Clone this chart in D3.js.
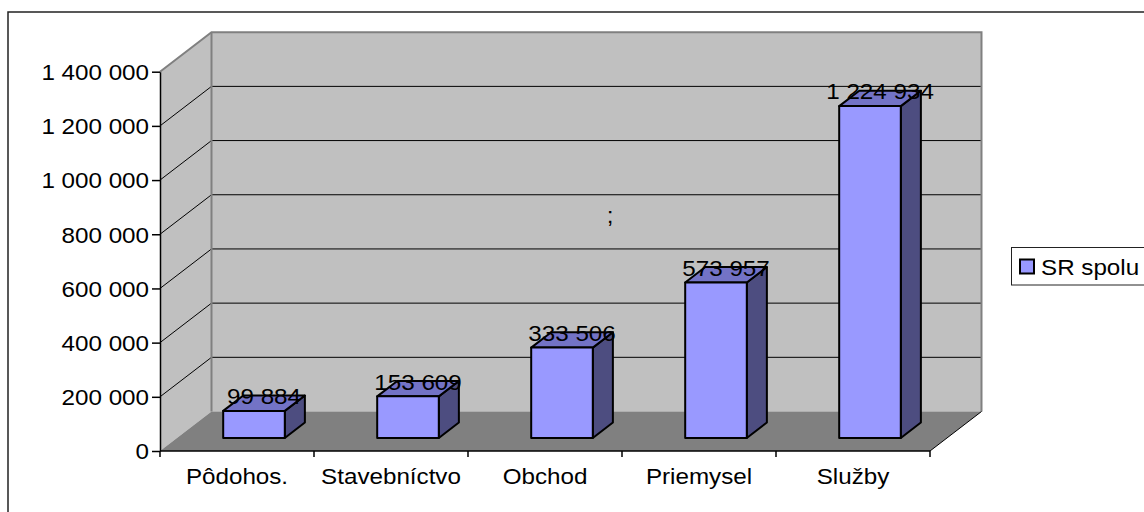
<!DOCTYPE html>
<html><head><meta charset="utf-8">
<script src="https://cdn.jsdelivr.net/npm/d3@7"></script>
<style>html,body{margin:0;padding:0;background:#fff;}svg{display:block;font-family:"Liberation Sans",Arial,sans-serif;}</style>
</head><body>
<script>
const categories = ["Pôdohos.", "Stavebníctvo", "Obchod", "Priemysel", "Služby"];
const values = [99884, 153609, 333506, 573957, 1224934];
const yTicks = [0, 200000, 400000, 600000, 800000, 1000000, 1200000, 1400000];
const seriesName = "SR spolu";
const strayText = ";";

const W = 1144, H = 512;
const DX = 51.5, DY = 39.5;       // depth offset of back wall
const f0 = 0.33, f1 = 0.72;       // bar depth range (fraction of depth)
const FS = 22, SX = 1.1;          // font size and horizontal stretch

const svg = d3.select("body").append("svg").attr("width", W).attr("height", H);

// outer chart border
svg.append("rect").attr("x", 8).attr("y", 12).attr("width", W + 20).attr("height", H + 20)
  .attr("fill", "#fff").attr("stroke", "#222").attr("stroke-width", 1.5);

const x = d3.scaleBand().domain(categories).range([160, 930]).padding(0);
const y = d3.scaleLinear().domain([0, 1400000]).range([451, 71.7]);
const fmt = d3.formatLocale({decimal: ",", thousands: " ", grouping: [3], currency: ["", ""]}).format(",.0f");

const x0 = x.range()[0], x1 = x.range()[1];
const yTop = y(1400000), yBot = y(0);

function txt(g, px, py, s, anchor) {
  return g.append("text").attr("transform", `translate(${px},${py}) scale(${SX},1)`)
    .attr("text-anchor", anchor).attr("font-size", FS).attr("fill", "#000").text(s);
}

// side wall
svg.append("polygon")
  .attr("points", [[x0, yTop], [x0 + DX, yTop - DY], [x0 + DX, yBot - DY], [x0, yBot]].join(" "))
  .attr("fill", "#c0c0c0");
// back wall
svg.append("rect").attr("x", x0 + DX).attr("y", yTop - DY).attr("width", x1 - x0).attr("height", yBot - yTop)
  .attr("fill", "#c0c0c0");
// floor
svg.append("polygon")
  .attr("points", [[x0, yBot], [x1, yBot], [x1 + DX, yBot - DY], [x0 + DX, yBot - DY]].join(" "))
  .attr("fill", "#808080");

// gridlines
const grid = yTicks.filter(v => v > 0 && v < 1400000);
svg.selectAll(".gb").data(grid).enter().append("line")
  .attr("x1", x0 + DX).attr("x2", x1 + DX).attr("y1", d => y(d) - DY).attr("y2", d => y(d) - DY)
  .attr("stroke", "#000").attr("stroke-width", 1);
svg.selectAll(".gs").data(grid).enter().append("line")
  .attr("x1", x0).attr("x2", x0 + DX).attr("y1", d => y(d)).attr("y2", d => y(d) - DY)
  .attr("stroke", "#000").attr("stroke-width", 1);

// wall borders
svg.append("path")
  .attr("d", `M${x0},${yTop}L${x0 + DX},${yTop - DY}L${x1 + DX},${yTop - DY}L${x1 + DX},${yBot - DY}`)
  .attr("fill", "none").attr("stroke", "#808080").attr("stroke-width", 2);
svg.append("line").attr("x1", x0 + DX).attr("x2", x0 + DX).attr("y1", yTop - DY).attr("y2", yBot - DY)
  .attr("stroke", "#808080").attr("stroke-width", 2);
svg.append("line").attr("x1", x1).attr("y1", yBot).attr("x2", x1 + DX).attr("y2", yBot - DY)
  .attr("stroke", "#000").attr("stroke-width", 1);

// y axis
const yAxis = svg.append("g").attr("transform", `translate(${x0},0)`)
  .call(d3.axisLeft(y).tickValues(yTicks).tickSize(8).tickSizeOuter(0).tickFormat(fmt));
yAxis.select(".domain").attr("stroke", "#000").attr("stroke-width", 1.5);
yAxis.selectAll(".tick line").attr("stroke", "#000").attr("stroke-width", 1.5);
yAxis.selectAll(".tick text").attr("x", null).attr("dy", "0.36em")
  .attr("transform", `translate(-11,0) scale(${SX},1)`)
  .attr("font-size", FS).attr("font-family", "Liberation Sans, Arial, sans-serif").attr("fill", "#000");

// x axis
svg.append("line").attr("x1", x0).attr("x2", x1).attr("y1", yBot).attr("y2", yBot)
  .attr("stroke", "#000").attr("stroke-width", 1.5);
const bounds = categories.map(c => x(c)).concat([x1]);
svg.selectAll(".xt").data(bounds).enter().append("line")
  .attr("x1", d => d).attr("x2", d => d).attr("y1", yBot).attr("y2", yBot + 6)
  .attr("stroke", "#000").attr("stroke-width", 1.5);
categories.forEach(c => txt(svg, x(c) + x.bandwidth() / 2, 484, c, "middle"));

// bars
const bw = x.bandwidth() * 0.4;
const ddx = (f1 - f0) * DX, ddy = (f1 - f0) * DY;
const bars = svg.append("g").attr("stroke", "#000").attr("stroke-width", 2).attr("stroke-linejoin", "round");
categories.forEach((c, i) => {
  const cx = x(c) + x.bandwidth() / 2;
  const xl = cx - bw / 2 + f0 * DX, xr = xl + bw;
  const yb = y(0) - f0 * DY, yt = y(values[i]) - f0 * DY;
  bars.append("polygon").attr("points", [[xr, yt], [xr + ddx, yt - ddy], [xr + ddx, yb - ddy], [xr, yb]].join(" "))
    .attr("fill", "#4d4d80");
  bars.append("polygon").attr("points", [[xl, yt], [xr, yt], [xr + ddx, yt - ddy], [xl + ddx, yt - ddy]].join(" "))
    .attr("fill", "#7373c6");
  bars.append("rect").attr("x", xl).attr("y", yt).attr("width", bw).attr("height", yb - yt)
    .attr("fill", "#9999ff");
});

// value labels
const fm = (f0 + f1) / 2;
categories.forEach((c, i) => {
  const cx = x(c) + x.bandwidth() / 2;
  txt(svg, cx + fm * DX, y(values[i]) - fm * DY + 1, fmt(values[i]), "middle");
});

// stray semicolon
txt(svg, 610, 223, strayText, "middle");

// legend
svg.append("rect").attr("x", 1011.5).attr("y", 247.5).attr("width", 160).attr("height", 37.5)
  .attr("fill", "#fff").attr("stroke", "#222").attr("stroke-width", 1);
svg.append("rect").attr("x", 1020).attr("y", 259.5).attr("width", 14).attr("height", 14)
  .attr("fill", "#9999ff").attr("stroke", "#000").attr("stroke-width", 2);
txt(svg, 1041, 275, seriesName, "start");
</script>
</body></html>
